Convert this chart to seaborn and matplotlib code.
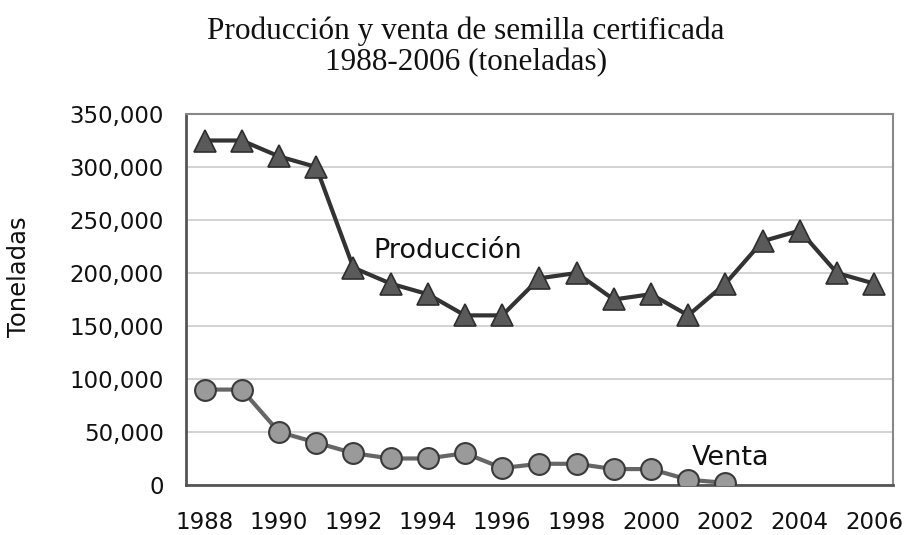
import pandas as pd
import matplotlib.pyplot as plt
import seaborn as sns
from matplotlib.ticker import FuncFormatter, FixedLocator

# ------------------------------
# Data (toneladas)
# ------------------------------
years = list(range(1988, 2007))
produccion = [325000, 325000, 310000, 300000, 205000, 190000, 180000, 160000, 160000,
              195000, 200000, 175000, 180000, 160000, 190000, 230000, 240000, 200000, 190000]
venta = [90000, 90000, 50000, 40000, 30000, 25000, 25000, 30000, 16000,
         20000, 20000, 15000, 15000, 5000, 2000]
year_labels = [str(y) for y in range(1988, 2007, 2)]

df_prod = pd.DataFrame({'pos': range(len(produccion)), 'valor': produccion})
df_venta = pd.DataFrame({'pos': range(len(venta)), 'valor': venta})

# ------------------------------
# Plot
# ------------------------------
sns.set_style("white")
plt.rcParams['font.family'] = ['DejaVu Sans']

fig = plt.figure(figsize=(9.05, 5.35), dpi=100)
ax = fig.add_axes([0.2055, 0.0935, 0.781, 0.6934])

sns.lineplot(data=df_prod, x='pos', y='valor', ax=ax, color='#333333', linewidth=3,
             marker='^', markersize=16, markerfacecolor='#5a5a5a',
             markeredgecolor='#2e2e2e', markeredgewidth=1.2, zorder=3)
sns.lineplot(data=df_venta, x='pos', y='valor', ax=ax, color='#666666', linewidth=3,
             marker='o', markersize=15, markerfacecolor='#9a9a9a',
             markeredgecolor='#3a3a3a', markeredgewidth=1.5, zorder=3)

ax.set_xlim(-0.5, len(years) - 0.5)
ax.set_ylim(0, 350000)
ax.set_yticks(range(0, 350001, 50000))
ax.yaxis.set_major_formatter(FuncFormatter(lambda v, p: f"{int(v):,}"))
ax.grid(axis='y', color='#cccccc', linewidth=1.2)
ax.set_axisbelow(True)

# category labels every other year, tick marks at category boundaries
ax.xaxis.set_major_locator(FixedLocator(list(range(0, len(years), 2))))
ax.set_xticklabels(year_labels)
ax.xaxis.set_minor_locator(FixedLocator([i - 0.5 for i in range(len(years) + 1)]))
ax.tick_params(axis='x', which='major', length=0, pad=19, labelsize=16.5, labelcolor='#111111')
ax.tick_params(axis='x', which='minor', length=6, color='#bbbbbb', width=1)
ax.tick_params(axis='y', length=7, color='#bbbbbb', width=1, labelsize=16.5,
               pad=9, labelcolor='#111111')

for side in ['left', 'bottom']:
    ax.spines[side].set_color('#555555')
    ax.spines[side].set_linewidth(2)
for side in ['top', 'right']:
    ax.spines[side].set_color('#888888')
    ax.spines[side].set_linewidth(1.5)

ax.set_xlabel("")
ax.set_ylabel("")
fig.text(19 / 905, 1 - 277 / 535, "Toneladas", rotation=90, ha='center', va='center',
         fontsize=17.5, color='#111111')

ax.text(4.55, 214000, "Producción", fontsize=19.5, va='baseline', ha='left', color='#111111')
ax.text(13.1, 19000, "Venta", fontsize=19.5, va='baseline', ha='left', color='#111111')

title_font = ['Liberation Serif', 'DejaVu Serif']
fig.text(0.515, 1 - 31 / 535, "Producción y venta de semilla certificada",
         ha='center', va='center', fontsize=22.5, family=title_font, color='#111111')
fig.text(0.515, 1 - 63 / 535, "1988-2006 (toneladas)",
         ha='center', va='center', fontsize=22.5, family=title_font, color='#111111')

fig.savefig("out.png", dpi=100)
